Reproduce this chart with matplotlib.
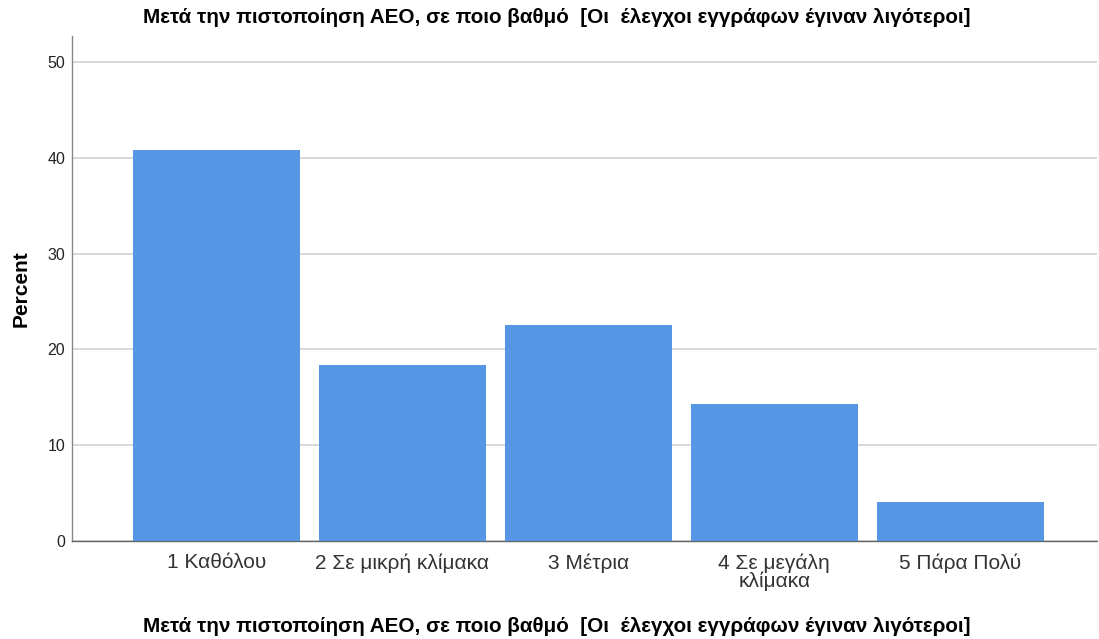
import matplotlib
matplotlib.use("Agg")
import matplotlib.pyplot as plt

categories = ["1 Καθόλου", "2 Σε μικρή κλίμακα", "3 Μέτρια", "4 Σε μεγάλη\nκλίμακα", "5 Πάρα Πολύ"]
percent = [40.8, 18.4, 22.5, 14.3, 4.1]
yticks = [0, 10, 20, 30, 40, 50]
title = "Μετά την πιστοποίηση ΑΕΟ, σε ποιο βαθμό  [Οι  έλεγχοι εγγράφων έγιναν λιγότεροι]"

plt.rcParams['font.family'] = ['Liberation Sans', 'DejaVu Sans']

fig = plt.figure(figsize=(10.99, 6.39), dpi=100)
ax = fig.add_axes([0.0655, 0.1534, 0.9325, 0.7903])

x = list(range(len(categories)))
ax.bar(x, percent, width=0.9, color="#5596e5", zorder=3)
ax.set_xlim(-0.777, 4.734)
ax.set_ylim(0, 52.7)
ax.set_yticks(yticks)
ax.set_yticklabels([str(v) for v in yticks], fontsize=11.5, color="#222222")
ax.set_xticks(x)
ax.set_xticklabels(categories, fontsize=15, color="#333333", linespacing=0.92, va="top")
ax.tick_params(axis='x', length=0, pad=9)
ax.tick_params(axis='y', length=0, pad=5)
ax.grid(axis='y', color="#d6d6d6", linewidth=1.3, zorder=0)
for s in ["top", "right"]:
    ax.spines[s].set_visible(False)
ax.spines["left"].set_color("#888888")
ax.spines["bottom"].set_color("#666666")
ax.spines["left"].set_linewidth(1.0)
ax.spines["bottom"].set_linewidth(1.0)

ax.set_ylabel("Percent", fontsize=15, fontweight="bold", labelpad=12)
fig.text(0.507, 0.973, title, ha="center", va="center", fontsize=14.85, fontweight="bold")
fig.text(0.507, 0.019, title, ha="center", va="center", fontsize=14.85, fontweight="bold")

fig.savefig("out.png", dpi=100)
